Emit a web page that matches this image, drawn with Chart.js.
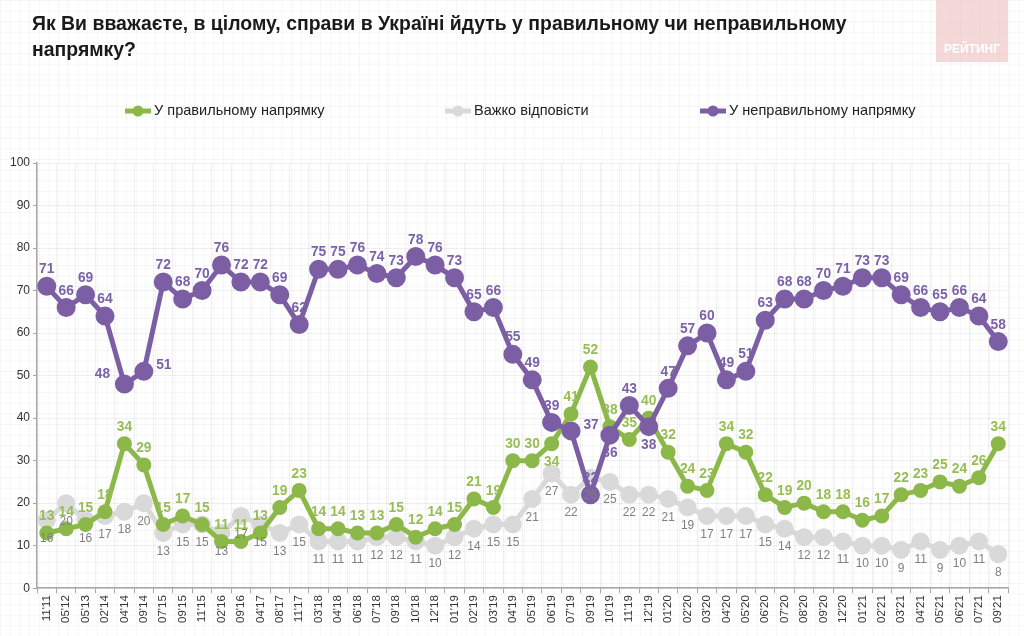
<!DOCTYPE html>
<html>
<head>
<meta charset="utf-8">
<script src="https://cdn.jsdelivr.net/npm/chart.js@4.4.0/dist/chart.umd.min.js"></script>
<style>
  html, body { margin: 0; padding: 0; background: #fff; }
  #wrap { width: 1024px; height: 636px; position: relative; }
</style>
</head>
<body>
<div id="wrap"><canvas id="chart"></canvas></div>
<script>
// ─── Data ────────────────────────────────────────────────
const TITLE_LINES = [
  'Як Ви вважаєте, в цілому, справи в Україні йдуть у правильному чи неправильному',
  'напрямку?'
];
const LOGO_TEXT = 'РЕЙТИНГ';

const SERIES_NAMES = ['У правильному напрямку', 'Важко відповісти', 'У неправильному напрямку'];

const PERIODS = [
  "11'11", "05'12", "05'13", "02'14", "04'14", "09'14", "07'15", "09'15", "11'15", "02'16",
  "09'16", "04'17", "08'17", "11'17", "03'18", "04'18", "06'18", "07'18", "09'18", "10'18",
  "12'18", "01'19", "02'19", "03'19", "04'19", "05'19", "06'19", "07'19", "09'19", "10'19",
  "11'19", "12'19", "01'20", "02'20", "03'20", "04'20", "05'20", "06'20", "07'20", "08'20",
  "09'20", "12'20", "01'21", "02'21", "03'21", "04'21", "05'21", "06'21", "07'21", "09'21"
];

const RIGHT_DIR = [
  13, 14, 15, 18, 34, 29, 15, 17, 15, 11,
  11, 13, 19, 23, 14, 14, 13, 13, 15, 12,
  14, 15, 21, 19, 30, 30, 34, 41, 52, 38,
  35, 40, 32, 24, 23, 34, 32, 22, 19, 20,
  18, 18, 16, 17, 22, 23, 25, 24, 26, 34
];

const HARD_TO_SAY = [
  16, 20, 16, 17, 18, 20, 13, 15, 15, 13,
  17, 15, 13, 15, 11, 11, 11, 12, 12, 11,
  10, 12, 14, 15, 15, 21, 27, 22, 26, 25,
  22, 22, 21, 19, 17, 17, 17, 15, 14, 12,
  12, 11, 10, 10, 9, 11, 9, 10, 11, 8
];

const WRONG_DIR = [
  71, 66, 69, 64, 48, 51, 72, 68, 70, 76,
  72, 72, 69, 62, 75, 75, 76, 74, 73, 78,
  76, 73, 65, 66, 55, 49, 39, 37, 22, 36,
  43, 38, 47, 57, 60, 49, 51, 63, 68, 68,
  70, 71, 73, 73, 69, 66, 65, 66, 64, 58
];

const Y_MIN = 0, Y_MAX = 100, Y_STEP = 10;

// ─── Styles ──────────────────────────────────────────────
const FONT = "'Liberation Sans', Arial, sans-serif";

const COLORS = {
  right: { line: '#8cb84a', label: '#97bd55' },
  hard:  { line: '#d9d9d9', label: '#808080' },
  wrong: { line: '#7b5ea3', label: '#7b62a8' },
};

// label placement exceptions (default: green/purple above, grey below)
const RIGHT_LABEL_POS = { 26: 'below' };
const WRONG_LABEL_POS = { 4: 'left', 5: 'right', 27: 'right', 29: 'below', 31: 'below' };

Chart.defaults.font.family = FONT;
Chart.defaults.color = '#333';

// draw text squeezed horizontally (the original uses a narrow face)
function narrowText(ctx, text, x, y, sx) {
  ctx.save();
  ctx.translate(x, y);
  ctx.scale(sx, 1);
  ctx.fillText(text, 0, 0);
  ctx.restore();
}

// graph-paper background
const paperBg = {
  id: 'paperBg',
  beforeDraw(chart) {
    const { ctx, width, height } = chart;
    ctx.save();
    ctx.fillStyle = '#fff';
    ctx.fillRect(0, 0, width, height);
    ctx.strokeStyle = 'rgba(0,0,0,0.035)';
    ctx.lineWidth = 1;
    for (let x = 0.5; x < width; x += 9.7) {
      ctx.beginPath(); ctx.moveTo(x, 0); ctx.lineTo(x, height); ctx.stroke();
    }
    for (let y = 0.5; y < height; y += 10.6) {
      ctx.beginPath(); ctx.moveTo(0, y); ctx.lineTo(width, y); ctx.stroke();
    }
    ctx.restore();
  },
};

// title, logo and legend
const header = {
  id: 'header',
  afterDraw(chart) {
    const { ctx } = chart;
    ctx.save();

    ctx.fillStyle = 'rgba(236,180,180,0.5)';
    ctx.fillRect(936, 0, 72, 62);
    ctx.fillStyle = '#fff';
    ctx.font = `bold 12px ${FONT}`;
    ctx.textAlign = 'center';
    ctx.textBaseline = 'alphabetic';
    ctx.fillText(LOGO_TEXT, 972, 53);

    ctx.fillStyle = '#1a1a1a';
    ctx.textAlign = 'left';
    ctx.font = `bold 21px ${FONT}`;
    narrowText(ctx, TITLE_LINES[0], 32, 30, 0.925);
    narrowText(ctx, TITLE_LINES[1], 32, 56, 0.925);

    const items = [
      { x: 125, color: COLORS.right.line, text: SERIES_NAMES[0] },
      { x: 445, color: COLORS.hard.line,  text: SERIES_NAMES[1] },
      { x: 700, color: COLORS.wrong.line, text: SERIES_NAMES[2] },
    ];
    ctx.font = `15px ${FONT}`;
    ctx.textBaseline = 'middle';
    items.forEach(it => {
      const y = 111;
      ctx.strokeStyle = it.color;
      ctx.lineWidth = 5;
      ctx.beginPath(); ctx.moveTo(it.x, y); ctx.lineTo(it.x + 26, y); ctx.stroke();
      ctx.fillStyle = it.color;
      ctx.beginPath(); ctx.arc(it.x + 13, y, 5.5, 0, Math.PI * 2); ctx.fill();
      ctx.fillStyle = '#222';
      narrowText(ctx, it.text, it.x + 29, y, 0.97);
    });
    ctx.restore();
  },
};

// value labels next to points
const valueLabels = {
  id: 'valueLabels',
  afterDatasetsDraw(chart) {
    const { ctx } = chart;
    ctx.save();
    ctx.textAlign = 'center';
    ctx.textBaseline = 'middle';
    chart.data.datasets.forEach((ds, di) => {
      const meta = chart.getDatasetMeta(di);
      const conf = ds._labels;
      ctx.fillStyle = conf.color;
      ctx.font = conf.font;
      meta.data.forEach((pt, i) => {
        const pos = conf.pos[i] || conf.def;
        let x = pt.x, y = pt.y;
        if (pos === 'above') y -= 17;
        else if (pos === 'below') y += 18;
        else if (pos === 'left') { x -= 22; y -= 10; }
        else if (pos === 'right') { x += 20; y -= 6; }
        narrowText(ctx, String(ds.data[i]), x, y, 0.92);
      });
    });
    ctx.restore();
  },
};

const ctx = document.getElementById('chart');
new Chart(ctx, {
  type: 'line',
  data: {
    labels: PERIODS,
    datasets: [
      {
        label: SERIES_NAMES[0],
        data: RIGHT_DIR,
        borderColor: COLORS.right.line,
        backgroundColor: COLORS.right.line,
        borderWidth: 5,
        pointRadius: 5,
        order: 1,
        _labels: { color: COLORS.right.label, font: `bold 15px ${FONT}`, pos: RIGHT_LABEL_POS, def: 'above' },
      },
      {
        label: SERIES_NAMES[1],
        data: HARD_TO_SAY,
        borderColor: COLORS.hard.line,
        backgroundColor: COLORS.hard.line,
        borderWidth: 5,
        pointRadius: 6.5,
        order: 2,
        _labels: { color: COLORS.hard.label, font: `13px ${FONT}`, pos: {}, def: 'below' },
      },
      {
        label: SERIES_NAMES[2],
        data: WRONG_DIR,
        borderColor: COLORS.wrong.line,
        backgroundColor: COLORS.wrong.line,
        borderWidth: 5,
        pointRadius: 7,
        order: 0,
        _labels: { color: COLORS.wrong.label, font: `bold 15px ${FONT}`, pos: WRONG_LABEL_POS, def: 'above' },
      },
    ],
  },
  options: {
    responsive: true,
    maintainAspectRatio: false,
    animation: false,
    layout: { padding: { top: 163, left: 7, right: 16, bottom: 11 } },
    plugins: {
      legend: { display: false },
      title: { display: false },
      tooltip: { enabled: false },
    },
    scales: {
      x: {
        offset: true,
        grid: { offset: true, color: 'rgba(0,0,0,0.06)', tickLength: 5, tickColor: '#a6a6a6' },
        border: { color: '#a6a6a6', width: 1.5 },
        ticks: { autoSkip: false, minRotation: 90, maxRotation: 90, color: '#333', font: { size: 11.5 }, padding: 2 },
      },
      y: {
        min: Y_MIN, max: Y_MAX,
        grid: { color: 'rgba(0,0,0,0.06)', tickLength: 4, tickColor: '#a6a6a6' },
        border: { color: '#a6a6a6', width: 1.5 },
        ticks: { stepSize: Y_STEP, color: '#333', font: { size: 12 }, padding: 3 },
      },
    },
  },
  plugins: [paperBg, header, valueLabels],
});
</script>
</body>
</html>
